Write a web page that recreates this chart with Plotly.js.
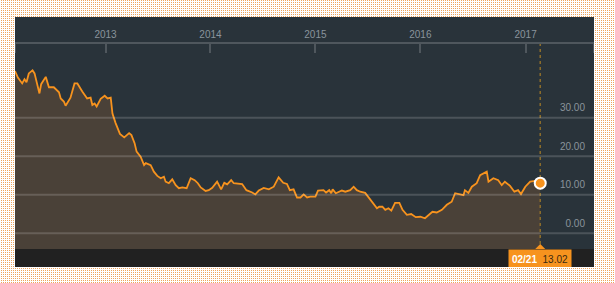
<!DOCTYPE html>
<html>
<head>
<meta charset="utf-8">
<script src="https://cdn.plot.ly/plotly-3.0.1.min.js"></script>
<style>
  html, body { margin: 0; padding: 0; }
  body {
    width: 615px; height: 283px; overflow: hidden; position: relative;
    background-color: #ffffff;
    background-image:
      linear-gradient(90deg, #ffffff 1px, transparent 1px),
      linear-gradient(0deg, #ffffff 1px, #eea45c 1px);
    background-size: 2px 2px;
  }
  #panel {
    position: absolute; left: 15px; top: 17px; width: 579px; height: 250px;
    background: linear-gradient(to bottom, #29333a 232px, #212121 232px);
  }
  #chart { width: 579px; height: 250px; }
</style>
</head>
<body>
<div id="panel"><div id="chart"></div></div>
<script>
// ---- data ----
const dates = [
'2012-02-21','2012-03-02','2012-03-17','2012-03-25','2012-04-01','2012-04-09','2012-04-22','2012-04-29',
'2012-05-16','2012-05-22','2012-06-07','2012-06-18','2012-07-05','2012-07-23','2012-07-29','2012-08-09',
'2012-08-15','2012-09-01','2012-09-15','2012-09-25','2012-10-12','2012-10-29','2012-11-10','2012-11-16',
'2012-11-24','2012-12-01','2012-12-15','2012-12-29','2013-01-08','2013-01-19','2013-01-25','2013-01-31',
'2013-02-05','2013-02-20','2013-03-07','2013-03-24','2013-04-01','2013-04-12','2013-04-19','2013-05-03',
'2013-05-15','2013-05-21','2013-06-07','2013-06-18','2013-06-30','2013-07-12','2013-07-23','2013-07-29',
'2013-08-09','2013-08-21','2013-09-02','2013-09-13','2013-09-25','2013-10-10','2013-10-24','2013-11-07',
'2013-11-18','2013-11-28','2013-12-15','2013-12-26','2014-01-07','2014-01-24','2014-02-07','2014-02-18',
'2014-02-28','2014-03-14','2014-03-23','2014-04-21','2014-05-06','2014-05-26','2014-06-06','2014-06-18',
'2014-07-05','2014-07-23','2014-08-09','2014-08-26','2014-09-11','2014-09-24','2014-10-04','2014-10-17',
'2014-10-29','2014-11-10','2014-11-21','2014-12-03','2014-12-14','2015-01-01','2015-01-10','2015-01-29',
'2015-02-07','2015-02-18','2015-02-25','2015-03-02','2015-03-13','2015-04-03','2015-04-15','2015-05-02',
'2015-05-14','2015-05-25','2015-06-06','2015-06-23','2015-07-11','2015-08-03','2015-08-11','2015-08-22',
'2015-09-01','2015-09-12','2015-09-22','2015-10-05','2015-10-20','2015-10-31','2015-11-15','2015-11-30',
'2015-12-16','2016-01-01','2016-01-17','2016-01-29','2016-02-12','2016-02-27','2016-03-16','2016-04-02',
'2016-04-19','2016-05-01','2016-05-18','2016-05-30','2016-06-04','2016-06-16','2016-06-28','2016-07-15',
'2016-07-27','2016-08-11','2016-08-19','2016-08-25','2016-09-03','2016-09-11','2016-09-28','2016-10-10',
'2016-10-21','2016-11-08','2016-11-23','2016-12-06','2016-12-16','2016-12-31','2017-01-17','2017-02-03',
'2017-02-21'
];
const values = [
42.1,40.4,38.9,40.0,39.2,41.5,42.3,41.5,
36.3,38.7,40.6,37.9,37.9,36.6,35.0,34.2,
33.1,35.2,38.9,38.9,36.8,35.0,35.2,33.3,
33.7,32.9,34.9,35.7,35.0,35.2,31.1,29.4,
28.6,25.8,24.9,26.0,25.5,23.4,21.2,19.9,
17.7,18.2,17.7,16.0,14.9,14.3,14.7,13.4,
13.0,14.0,12.5,11.7,11.9,11.7,14.3,13.8,
13.0,11.9,11.0,11.2,11.8,13.4,11.4,13.1,
12.7,13.8,13.0,12.8,11.2,10.6,10.1,11.1,
11.8,11.4,12.1,14.5,13.1,12.8,11.2,11.4,
9.3,9.3,10.1,9.3,9.5,9.5,11.1,11.2,
10.6,11.2,10.4,11.4,10.4,11.1,10.8,11.2,
12.1,11.2,10.8,10.5,8.6,6.5,6.9,6.9,
6.1,6.5,5.9,7.9,7.9,6.1,4.8,5.0,
4.2,4.3,3.9,4.8,5.6,5.4,6.1,7.4,
8.2,10.4,10.2,9.9,11.2,10.5,12.1,13.0,
15.1,15.8,16.0,13.4,14.0,14.3,13.8,12.5,
13.4,12.3,10.8,11.2,10.2,12.1,13.4,13.6,
13.02
];
const yTicks = [0, 10, 20, 30];
const yearTicks = ['2013-01-01','2014-01-01','2015-01-01','2016-01-01','2017-01-01'];
const yearLabels = ['2013','2014','2015','2016','2017'];

// ---- styling / layout ----
const Y_RANGE = [-4.07, 49.13];
const X_RANGE = ['2012-02-21', '2017-08-27'];
const ORANGE = '#f7931e';
const AXIS_COL = '#4f575d';
const LABEL_COL = '#8a949c';
const FONT = 'Liberation Sans, Arial, sans-serif';

const lastDate = dates[dates.length - 1];
const lastVal = values[values.length - 1];
const dateLabel = lastDate.slice(5, 7) + '/' + lastDate.slice(8, 10);
const pxPerUnit = 205 / (Y_RANGE[1] - Y_RANGE[0]);

const baseline = {
  x: dates, y: dates.map(() => Y_RANGE[0]),
  type: 'scatter', mode: 'lines', line: {width: 0, color: 'rgba(0,0,0,0)'},
  hoverinfo: 'skip', showlegend: false
};
const area = {
  x: dates, y: values, type: 'scatter', mode: 'lines',
  line: {color: ORANGE, width: 1.8}, fill: 'tonexty', fillcolor: '#4a4138',
  showlegend: false
};
// vertical cursor line at the last date (from the triangle tip to the top axis)
const cursor = {
  x: [lastDate, lastDate], y: [Y_RANGE[0] + 5 / pxPerUnit, Y_RANGE[1]],
  type: 'scatter', mode: 'lines', line: {color: '#8c6d2c', width: 1.5, dash: 'dot'},
  hoverinfo: 'skip', showlegend: false, cliponaxis: false
};
const endPoint = {
  x: [lastDate], y: [lastVal], type: 'scatter', mode: 'markers',
  marker: {size: 11, color: ORANGE, line: {color: '#ffffff', width: 2}},
  showlegend: false, cliponaxis: false
};

const shapes = yTicks.map(t => ({
  type: 'line', xref: 'paper', x0: 0, x1: 1, yref: 'y', y0: t, y1: t,
  line: {color: 'rgba(255,255,255,0.16)', width: 2}, layer: 'above'
}));
shapes.push({
  type: 'path', xref: 'x', yref: 'y', xsizemode: 'pixel', ysizemode: 'pixel',
  xanchor: lastDate, yanchor: Y_RANGE[0], path: 'M -5 0 L 5 0 L 0 5 Z',
  fillcolor: ORANGE, line: {width: 0}, layer: 'above'
});
[0, 1].forEach(px => shapes.push({
  type: 'line', xref: 'paper', x0: px, x1: px, yref: 'paper', y0: 1, y1: 1 - 9 / 205,
  line: {color: AXIS_COL, width: 2}, layer: 'above'
}));

const layout = {
  width: 579, height: 250,
  margin: {l: 0, r: 0, t: 27, b: 18, pad: 0},
  paper_bgcolor: 'rgba(0,0,0,0)', plot_bgcolor: 'rgba(0,0,0,0)',
  font: {family: FONT, size: 10, color: LABEL_COL},
  showlegend: false,
  xaxis: {
    type: 'date', range: X_RANGE, side: 'top',
    tickmode: 'array', tickvals: yearTicks, ticktext: yearLabels,
    ticks: 'inside', ticklen: 9, tickwidth: 2, tickcolor: AXIS_COL,
    showline: true, linecolor: AXIS_COL, linewidth: 2,
    showgrid: false, zeroline: false, fixedrange: true,
    tickfont: {family: FONT, size: 10, color: LABEL_COL},
    ticklabelstandoff: 0
  },
  yaxis: {
    range: Y_RANGE, side: 'right', tickmode: 'array', tickvals: yTicks,
    tickformat: '.2f', ticks: '', showgrid: false, zeroline: false, showline: false,
    ticklabelposition: 'inside', ticklabelshift: -10, ticklabelstandoff: 6,
    tickfont: {family: FONT, size: 10, color: LABEL_COL}, fixedrange: true
  },
  shapes: shapes,
  annotations: [{
    xref: 'x', x: lastDate, yref: 'paper', y: 0, xanchor: 'center', yanchor: 'top',
    text: '<b>' + dateLabel + '</b>  <span style="color:#3a2a10">' + lastVal.toFixed(2) + '</span>',
    showarrow: false, bgcolor: ORANGE, borderpad: 2, width: 58, height: 14,
    font: {family: FONT, size: 10, color: '#ffffff'}
  }]
};

Plotly.newPlot('chart', [baseline, area, cursor, endPoint], layout, {staticPlot: true, displayModeBar: false});
</script>
</body>
</html>
